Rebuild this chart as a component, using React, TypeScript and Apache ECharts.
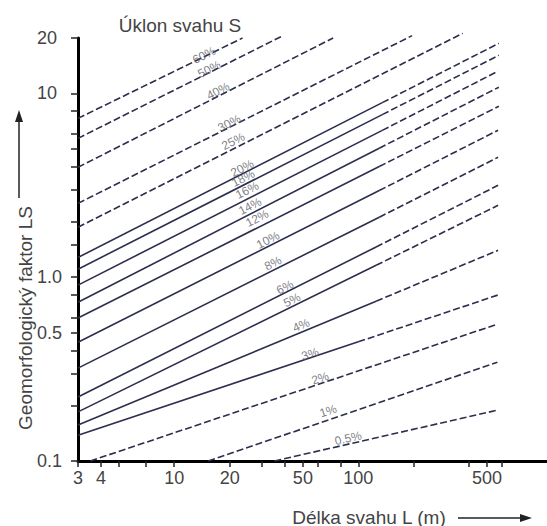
import React, { useEffect, useRef } from "react";
import * as echarts from "echarts";

// Slope labels (Úklon svahu S)
const slopes = ["60%", "50%", "40%", "30%", "25%", "20%", "18%", "16%", "14%", "12%", "10%", "8%", "6%", "5%", "4%", "3%", "2%", "1%", "0.5%"];
// Start point of each line [L (m), LS]
const startL = [3, 3, 3, 3, 3, 3, 3, 3, 3, 3, 3, 3, 3, 3, 3, 3, 3.5, 15.3, 35];
const startLS = [7.31, 5.69, 3.96, 2.52, 1.87, 1.28, 1.105, 0.905, 0.731, 0.599, 0.443, 0.32, 0.223, 0.185, 0.157, 0.138, 0.1, 0.1, 0.1];
// Point where the solid part turns dashed (null: dashed along the whole length)
const breakL = [null, null, null, null, null, 135, 135, 135, 130, 130, 130, 130, 125, 125, 125, 100, null, null, null];
const breakLS = [null, null, null, null, null, 8.9, 7.66, 6.29, 5.03, 4.0, 2.96, 2.12, 1.46, 1.16, 0.74, 0.445, null, null, null];
// End point of each line
const endL = [23.5, 39, 73, 196, 369, 580, 580, 575, 580, 580, 575, 575, 575, 575, 575, 575, 570, 570, 570];
const endLS = [20, 20.6, 20, 20.6, 21.2, 18.7, 16.1, 13.2, 10.8, 8.5, 6.3, 4.49, 3.16, 2.46, 1.4, 0.8, 0.555, 0.345, 0.189];
// Where each slope label sits
const labelL = [14.5, 15.5, 17.3, 19.9, 20.9, 23.4, 23.7, 24.9, 25.8, 28.2, 32.3, 34.4, 40, 43.7, 48.9, 54.7, 62, 68.5, 88];
const labelLS = [16.1, 13.5, 10.3, 6.87, 5.48, 3.91, 3.45, 2.97, 2.43, 2.09, 1.59, 1.19, 0.882, 0.75, 0.548, 0.382, 0.282, 0.187, 0.133];

// Axis ticks and labels
const xLabels = [3, 4, 10, 20, 50, 100, 500];
const xTicks = [3, 4, 5, 7, 10, 20, 30, 40, 50, 60, 80, 100, 200, 400, 500, 600];
const yLabels = [0.1, 0.5, 1, 10, 20];
const yTicks = [0.1, 0.2, 0.3, 0.4, 0.5, 0.6, 0.8, 1, 1.5, 2, 3, 4, 5, 6, 8, 10, 20];

const FONT = "'Liberation Sans', Arial, sans-serif";
const LINE = "#2b2e4c";

export default function App() {
  const ref = useRef<HTMLDivElement>(null);
  useEffect(() => {
    const chart = echarts.init(ref.current as HTMLDivElement, null, { renderer: "svg" });
    const series: any[] = [];
    slopes.forEach((s, i) => {
      const base = { type: "line", symbol: "none", clip: false, silent: true, z: 2 };
      if (breakL[i] != null) {
        series.push({
          ...base,
          data: [[startL[i], startLS[i]], [breakL[i], breakLS[i]]],
          lineStyle: { color: LINE, width: 1.6, type: "solid" },
        });
        series.push({
          ...base,
          data: [[breakL[i], breakLS[i]], [endL[i], endLS[i]]],
          lineStyle: { color: LINE, width: 1.6, type: [7, 3] },
        });
      } else {
        series.push({
          ...base,
          data: [[startL[i], startLS[i]], [endL[i], endLS[i]]],
          lineStyle: { color: LINE, width: 1.6, type: [7, 3] },
        });
      }
    });
    const angles = slopes.map((s, i) => {
      const m = Math.log10(endLS[i] / startLS[i]) / Math.log10(endL[i] / startL[i]);
      return (Math.atan(m) * 180) / Math.PI;
    });
    series.push({
      type: "scatter",
      symbolSize: 0,
      silent: true,
      z: 5,
      data: labelL.map((l, i) => ({ value: [l, labelLS[i]], label: { rotate: angles[i] } })),
      label: {
        show: true,
        position: "inside",
        formatter: (p: any) => slopes[p.dataIndex],
        color: "#5e5e68",
        fontSize: 12,
        fontFamily: FONT,
      },
    });

    const fmt = (v: number) => {
      if (Math.abs(v - 1) < 1e-6) return "1.0";
      return String(Number(v.toPrecision(3)));
    };

    chart.setOption({
      animation: false,
      backgroundColor: "#fff",
      grid: { left: 78, right: 0, top: 38, bottom: 65, containLabel: false, outerBoundsMode: "none" },
      xAxis: {
        type: "log",
        logBase: 10,
        min: 3,
        max: 1060,
        axisLine: { show: true, lineStyle: { color: "#000", width: 3 } },
        axisTick: { show: true, customValues: xTicks, length: 6, lineStyle: { color: "#222", width: 1.5 } },
        axisLabel: { customValues: xLabels, color: "#444", fontSize: 18, fontFamily: FONT, margin: 8, formatter: fmt },
        splitLine: { show: false },
      },
      yAxis: {
        type: "log",
        logBase: 10,
        min: 0.1,
        max: 20,
        axisLine: { show: true, lineStyle: { color: "#000", width: 3 } },
        axisTick: { show: true, customValues: yTicks, length: 7, lineStyle: { color: "#222", width: 1.5 } },
        axisLabel: { customValues: yLabels, color: "#444", fontSize: 18, fontFamily: FONT, margin: 41, align: "left", formatter: fmt },
        splitLine: { show: false },
      },
      graphic: [
        { type: "text", x: 180, y: 25, style: { text: "Úklon svahu S", fontSize: 19, fontFamily: FONT, fill: "#444", align: "center", verticalAlign: "middle" } },
        { type: "text", x: 25, y: 318, rotation: Math.PI / 2, style: { text: "Geomorfologický faktor LS", fontSize: 19, fontFamily: FONT, fill: "#444", align: "center", verticalAlign: "middle" } },
        { type: "line", shape: { x1: 19, y1: 198, x2: 19, y2: 120 }, style: { stroke: "#222", lineWidth: 1.5 } },
        { type: "polygon", shape: { points: [[19, 110], [15, 122], [23, 122]] }, style: { fill: "#222" } },
        { type: "text", x: 369, y: 517, style: { text: "Délka svahu L (m)", fontSize: 19, fontFamily: FONT, fill: "#444", align: "center", verticalAlign: "middle" } },
        { type: "line", shape: { x1: 458, y1: 518, x2: 522, y2: 518 }, style: { stroke: "#222", lineWidth: 1.5 } },
        { type: "polygon", shape: { points: [[532, 518], [520, 514], [520, 522]] }, style: { fill: "#222" } },
      ],
      series,
    });
    return () => chart.dispose();
  }, []);
  return <div ref={ref} style={{ position: "fixed", left: 0, top: 0, width: 547, height: 526 }} />;
}
